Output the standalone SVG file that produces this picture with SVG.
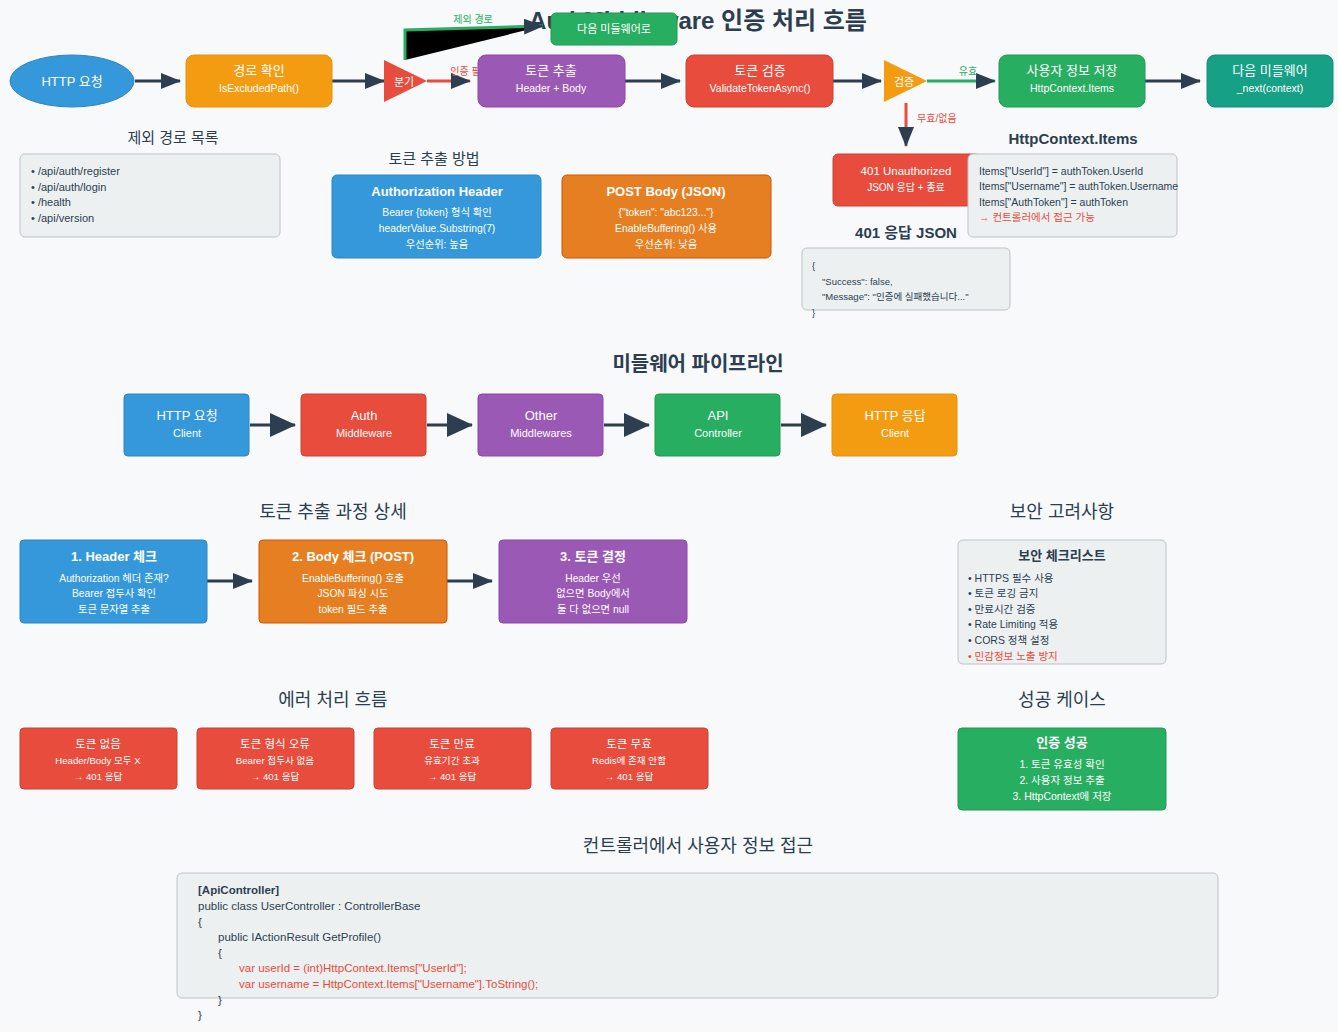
<svg xmlns="http://www.w3.org/2000/svg" width="1338" height="1032" viewBox="0 0 1338 1032">
<defs>
<style>
text{font-family:"Liberation Sans","Noto Sans CJK KR",sans-serif;}
.w{fill:#fff;text-anchor:middle;}
.t1{font-size:13px;}
.s{font-size:10.5px;}
.d{font-size:10.3px;}
.e{font-size:9.6px;}
.b{font-weight:bold;}
.h{fill:#2c3e50;text-anchor:middle;font-size:18px;}
.hb{fill:#2c3e50;text-anchor:middle;font-size:15px;font-weight:bold;}
.g{fill:#ecf0f1;stroke:#bdc3c7;stroke-width:1;}
.ln{stroke:#2c3e50;stroke-width:3;fill:none;}
.code{font-size:11.5px;fill:#2c3e50;}
.it{font-size:10.5px;fill:#2c3e50;}
</style>
<marker id="ah" markerUnits="userSpaceOnUse" markerWidth="20" markerHeight="16" refX="19" refY="8" orient="auto"><path d="M0,0 L20,8 L0,16 z" fill="#2c3e50"/></marker>
<marker id="ahL" markerUnits="userSpaceOnUse" markerWidth="26" markerHeight="24" refX="25" refY="12" orient="auto"><path d="M0,0 L26,12 L0,24 z" fill="#2c3e50"/></marker>
</defs>
<rect width="1338" height="1032" fill="#f8f9fa"/>
<text x="698" y="29" class="hb" style="font-size:24px">AuthMiddleware 인증 처리 흐름</text>

<g id="connectors">
<line x1="135" y1="81" x2="180" y2="81" class="ln" marker-end="url(#ah)"/>
<line x1="332" y1="81" x2="384" y2="81" class="ln" marker-end="url(#ah)"/>
<path d="M405,60 L405,30 L543,26" stroke="#27ae60" stroke-width="3" fill="#000" marker-end="url(#ah)"/>
<text x="473" y="23" style="font-size:10px;fill:#27ae60;text-anchor:middle">제외 경로</text>
<line x1="427" y1="81" x2="470" y2="81" stroke="#e74c3c" stroke-width="3" marker-end="url(#ah)"/>
<text x="470" y="75" style="font-size:10px;fill:#e74c3c;text-anchor:middle">인증 필요</text>
<line x1="625" y1="81" x2="680" y2="81" class="ln" marker-end="url(#ah)"/>
<line x1="833" y1="81" x2="881" y2="81" class="ln" marker-end="url(#ah)"/>
<line x1="927" y1="81" x2="995" y2="81" stroke="#27ae60" stroke-width="3" marker-end="url(#ah)"/>
<text x="968" y="75" style="font-size:10px;fill:#27ae60;text-anchor:middle">유효</text>
<line x1="1145" y1="81" x2="1200" y2="81" class="ln" marker-end="url(#ah)"/>
<line x1="906" y1="103" x2="906" y2="146" stroke="#e74c3c" stroke-width="3" marker-end="url(#ah)"/>
<text x="917" y="122" style="font-size:10px;fill:#e74c3c">무효/없음</text>
<line x1="250" y1="425" x2="295" y2="425" class="ln" stroke-width="4" marker-end="url(#ahL)"/>
<line x1="427" y1="425" x2="472" y2="425" class="ln" stroke-width="4" marker-end="url(#ahL)"/>
<line x1="604" y1="425" x2="649" y2="425" class="ln" stroke-width="4" marker-end="url(#ahL)"/>
<line x1="781" y1="425" x2="826" y2="425" class="ln" stroke-width="4" marker-end="url(#ahL)"/>
<line x1="207" y1="581" x2="252" y2="581" class="ln" marker-end="url(#ah)"/>
<line x1="447" y1="581" x2="492" y2="581" class="ln" marker-end="url(#ah)"/>
</g>

<g id="n-http-req"><ellipse cx="72" cy="81" rx="62" ry="26" fill="#3498db" stroke="#2e86c1"/><text x="72" y="86" class="w t1">HTTP 요청</text></g>
<g id="n-path-check"><rect x="186" y="55" width="146" height="52" rx="8" fill="#f39c12" stroke="#e59110"/><text x="259" y="75" class="w t1">경로 확인</text><text x="259" y="92" class="w s">IsExcludedPath()</text></g>
<g id="n-branch"><polygon points="384,60 384,102 427,81" fill="#e74c3c"/><text x="404" y="86" class="w" style="font-size:11px">분기</text></g>
<g id="n-next-mw"><rect x="551" y="13" width="126" height="32" rx="5" fill="#27ae60" stroke="#229954"/><text x="614" y="33" class="w" style="font-size:11px">다음 미들웨어로</text></g>
<g id="n-token-extract"><rect x="478" y="55" width="147" height="52" rx="8" fill="#9b59b6" stroke="#8e44ad"/><text x="551" y="75" class="w t1">토큰 추출</text><text x="551" y="92" class="w s">Header + Body</text></g>
<g id="n-token-validate"><rect x="686" y="55" width="147" height="52" rx="8" fill="#e74c3c" stroke="#cb4335"/><text x="760" y="75" class="w t1">토큰 검증</text><text x="760" y="92" class="w s">ValidateTokenAsync()</text></g>
<g id="n-verify"><polygon points="884,60 884,102 927,81" fill="#f39c12"/><text x="904" y="86" class="w" style="font-size:11px">검증</text></g>
<g id="n-save-user"><rect x="999" y="55" width="146" height="52" rx="8" fill="#27ae60" stroke="#229954"/><text x="1072" y="75" class="w t1">사용자 정보 저장</text><text x="1072" y="92" class="w s">HttpContext.Items</text></g>
<g id="n-next"><rect x="1207" y="55" width="126" height="52" rx="8" fill="#16a085" stroke="#138d75"/><text x="1270" y="75" class="w t1">다음 미들웨어</text><text x="1270" y="92" class="w s">_next(context)</text></g>

<g id="n-401"><rect x="833" y="154" width="147" height="52" rx="5" fill="#e74c3c" stroke="#cb4335"/><text x="906" y="175" class="w" style="font-size:11.5px">401 Unauthorized</text><text x="906" y="191" class="w" style="font-size:10px">JSON 응답 + 종료</text></g>
<g id="n-items">
<text x="1073" y="144" class="hb">HttpContext.Items</text>
<rect x="968" y="154" width="209" height="83" rx="5" class="g"/>
<text x="979" y="175" class="it">Items["UserId"] = authToken.UserId</text>
<text x="979" y="190" class="it">Items["Username"] = authToken.Username</text>
<text x="979" y="206" class="it">Items["AuthToken"] = authToken</text>
<text x="979" y="221" class="it" style="fill:#e74c3c">→ 컨트롤러에서 접근 가능</text>
</g>
<g id="n-401json">
<text x="906" y="238" class="hb">401 응답 JSON</text>
<rect x="802" y="248" width="208" height="62" rx="5" class="g"/>
<text x="812" y="269" style="font-size:9.5px;fill:#2c3e50">{</text>
<text x="822" y="285" style="font-size:9.5px;fill:#2c3e50">"Success": false,</text>
<text x="822" y="300" style="font-size:9.5px;fill:#2c3e50">"Message": "인증에 실패했습니다..."</text>
<text x="812" y="316" style="font-size:9.5px;fill:#2c3e50">}</text>
</g>

<g id="n-excluded">
<text x="173" y="143" class="h" style="font-size:15px">제외 경로 목록</text>
<rect x="20" y="154" width="260" height="83" rx="5" class="g"/>
<text x="31" y="175" style="font-size:11px;fill:#2c3e50">• /api/auth/register</text>
<text x="31" y="191" style="font-size:11px;fill:#2c3e50">• /api/auth/login</text>
<text x="31" y="206" style="font-size:11px;fill:#2c3e50">• /health</text>
<text x="31" y="222" style="font-size:11px;fill:#2c3e50">• /api/version</text>
</g>
<text x="434" y="164" class="h" style="font-size:15px">토큰 추출 방법</text>
<g id="n-auth-header"><rect x="332" y="175" width="209" height="83" rx="5" fill="#3498db" stroke="#2e86c1"/><text x="437" y="196" class="w b t1">Authorization Header</text><text x="437" y="216" class="w d">Bearer {token} 형식 확인</text><text x="437" y="232" class="w d">headerValue.Substring(7)</text><text x="437" y="248" class="w d">우선순위: 높음</text></g>
<g id="n-post-body"><rect x="562" y="175" width="209" height="83" rx="5" fill="#e67e22" stroke="#d35400"/><text x="666" y="196" class="w b t1">POST Body (JSON)</text><text x="666" y="216" class="w d">{"token": "abc123..."}</text><text x="666" y="232" class="w d">EnableBuffering() 사용</text><text x="666" y="248" class="w d">우선순위: 낮음</text></g>

<text x="698" y="371" class="h b" style="font-size:20px">미들웨어 파이프라인</text>
<g id="p-req"><rect x="124" y="394" width="125" height="62" rx="4" fill="#3498db" stroke="#2e86c1"/><text x="187" y="420" class="w t1">HTTP 요청</text><text x="187" y="437" class="w" style="font-size:11px">Client</text></g>
<g id="p-auth"><rect x="301" y="394" width="125" height="62" rx="4" fill="#e74c3c" stroke="#cb4335"/><text x="364" y="420" class="w t1">Auth</text><text x="364" y="437" class="w" style="font-size:11px">Middleware</text></g>
<g id="p-other"><rect x="478" y="394" width="125" height="62" rx="4" fill="#9b59b6" stroke="#8e44ad"/><text x="541" y="420" class="w t1">Other</text><text x="541" y="437" class="w" style="font-size:11px">Middlewares</text></g>
<g id="p-api"><rect x="655" y="394" width="125" height="62" rx="4" fill="#27ae60" stroke="#229954"/><text x="718" y="420" class="w t1">API</text><text x="718" y="437" class="w" style="font-size:11px">Controller</text></g>
<g id="p-res"><rect x="832" y="394" width="125" height="62" rx="4" fill="#f39c12" stroke="#e59110"/><text x="895" y="420" class="w t1">HTTP 응답</text><text x="895" y="437" class="w" style="font-size:11px">Client</text></g>

<text x="333" y="518" class="h">토큰 추출 과정 상세</text>
<g id="s-header"><rect x="20" y="540" width="187" height="83" rx="4" fill="#3498db" stroke="#2e86c1"/><text x="114" y="561" class="w b t1">1. Header 체크</text><text x="114" y="582" class="w d">Authorization 헤더 존재?</text><text x="114" y="597" class="w d">Bearer 접두사 확인</text><text x="114" y="613" class="w d">토큰 문자열 추출</text></g>
<g id="s-body"><rect x="259" y="540" width="188" height="83" rx="4" fill="#e67e22" stroke="#d35400"/><text x="353" y="561" class="w b t1">2. Body 체크 (POST)</text><text x="353" y="582" class="w d">EnableBuffering() 호출</text><text x="353" y="597" class="w d">JSON 파싱 시도</text><text x="353" y="613" class="w d">token 필드 추출</text></g>
<g id="s-decide"><rect x="499" y="540" width="188" height="83" rx="4" fill="#9b59b6" stroke="#8e44ad"/><text x="593" y="561" class="w b t1">3. 토큰 결정</text><text x="593" y="582" class="w d">Header 우선</text><text x="593" y="597" class="w d">없으면 Body에서</text><text x="593" y="613" class="w d">둘 다 없으면 null</text></g>

<text x="1062" y="518" class="h">보안 고려사항</text>
<g id="n-security">
<rect x="958" y="540" width="208" height="124" rx="5" class="g"/>
<text x="1062" y="560" class="b" style="font-size:13px;fill:#2c3e50;text-anchor:middle">보안 체크리스트</text>
<text x="968" y="582" class="it">• HTTPS 필수 사용</text>
<text x="968" y="597" class="it">• 토큰 로깅 금지</text>
<text x="968" y="613" class="it">• 만료시간 검증</text>
<text x="968" y="628" class="it">• Rate Limiting 적용</text>
<text x="968" y="644" class="it">• CORS 정책 설정</text>
<text x="968" y="660" class="it" style="fill:#e74c3c">• 민감정보 노출 방지</text>
</g>

<text x="333" y="706" class="h">에러 처리 흐름</text>
<g id="e-none"><rect x="20" y="728" width="157" height="61" rx="4" fill="#e74c3c" stroke="#cb4335"/><text x="98" y="748" class="w" style="font-size:11.5px">토큰 없음</text><text x="98" y="764" class="w e">Header/Body 모두 X</text><text x="98" y="780" class="w e">→ 401 응답</text></g>
<g id="e-format"><rect x="197" y="728" width="157" height="61" rx="4" fill="#e74c3c" stroke="#cb4335"/><text x="275" y="748" class="w" style="font-size:11.5px">토큰 형식 오류</text><text x="275" y="764" class="w e">Bearer 접두사 없음</text><text x="275" y="780" class="w e">→ 401 응답</text></g>
<g id="e-expired"><rect x="374" y="728" width="157" height="61" rx="4" fill="#e74c3c" stroke="#cb4335"/><text x="452" y="748" class="w" style="font-size:11.5px">토큰 만료</text><text x="452" y="764" class="w e">유효기간 초과</text><text x="452" y="780" class="w e">→ 401 응답</text></g>
<g id="e-invalid"><rect x="551" y="728" width="157" height="61" rx="4" fill="#e74c3c" stroke="#cb4335"/><text x="629" y="748" class="w" style="font-size:11.5px">토큰 무효</text><text x="629" y="764" class="w e">Redis에 존재 안함</text><text x="629" y="780" class="w e">→ 401 응답</text></g>

<text x="1062" y="706" class="h">성공 케이스</text>
<g id="n-success"><rect x="958" y="728" width="208" height="82" rx="4" fill="#27ae60" stroke="#229954"/><text x="1062" y="747" class="w b t1">인증 성공</text><text x="1062" y="768" class="w s">1. 토큰 유효성 확인</text><text x="1062" y="784" class="w s">2. 사용자 정보 추출</text><text x="1062" y="800" class="w s">3. HttpContext에 저장</text></g>

<text x="698" y="852" class="h">컨트롤러에서 사용자 정보 접근</text>
<g id="n-code">
<rect x="177" y="873" width="1041" height="125" rx="5" class="g"/>
<text x="198" y="894" class="code b">[ApiController]</text>
<text x="198" y="910" class="code">public class UserController : ControllerBase</text>
<text x="198" y="926" class="code">{</text>
<text x="218" y="941" class="code">public IActionResult GetProfile()</text>
<text x="218" y="957" class="code">{</text>
<text x="239" y="972" class="code" style="fill:#e74c3c">var userId = (int)HttpContext.Items["UserId"];</text>
<text x="239" y="988" class="code" style="fill:#e74c3c">var username = HttpContext.Items["Username"].ToString();</text>
<text x="218" y="1004" class="code">}</text>
<text x="198" y="1019" class="code">}</text>
</g>
</svg>
